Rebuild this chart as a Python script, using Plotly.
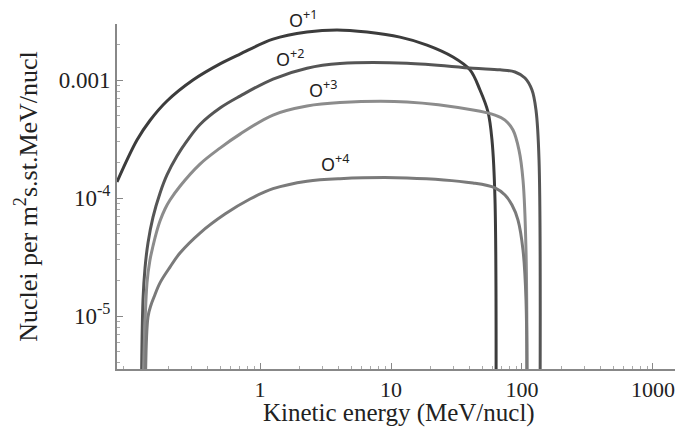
import plotly.graph_objects as go
import numpy as np

# Data (energy in MeV/nucl, flux in nuclei per m^2 s st MeV/nucl)
o1_energy = [0.0810, 0.1151, 0.1446, 0.1950, 0.3079, 0.4951, 0.7037, 1.257, 2.284, 3.871, 6.56, 11.71, 18.83, 29.74, 40.10, 47.80, 55.03, 59.02, 62.22, 63.33]
o1_flux = [1.37e-4, 3.10e-4, 4.54e-4, 6.64e-4, 1.0e-3, 1.37e-3, 1.66e-3, 2.22e-3, 2.55e-3, 2.66e-3, 2.55e-3, 2.31e-3, 1.98e-3, 1.57e-3, 1.22e-3, 8.23e-4, 5.36e-4, 3.10e-4, 9.61e-5, 1e-6]

o2_energy = [0.1235, 0.1279, 0.1325, 0.1396, 0.1525, 0.1724, 0.1950, 0.2325, 0.2772, 0.3483, 0.4951, 0.7037, 1.257, 2.284, 4.080, 13.25, 42.27, 67.95, 88.44, 105.4, 119.2, 127.9, 134.9, 137.2]
o2_flux = [1e-6, 1.37e-5, 2.55e-5, 4.16e-5, 6.90e-5, 1.10e-4, 1.57e-4, 2.27e-4, 3.05e-4, 4.20e-4, 5.79e-4, 7.31e-4, 1.02e-3, 1.26e-3, 1.38e-3, 1.39e-3, 1.26e-3, 1.22e-3, 1.17e-3, 1.04e-3, 8.23e-4, 5.57e-4, 2.10e-4, 1e-6]

o3_energy = [0.1257, 0.1372, 0.1446, 0.1525, 0.1607, 0.1724, 0.1883, 0.2056, 0.2450, 0.3483, 0.4951, 0.7037, 1.257, 2.284, 4.080, 13.25, 42.27, 62.22, 74.18, 85.38, 94.87, 101.8, 107.3, 109.2]
o3_flux = [1e-6, 1.91e-5, 2.99e-5, 3.92e-5, 4.95e-5, 6.38e-5, 8.07e-5, 9.61e-5, 1.26e-4, 1.94e-4, 2.65e-4, 3.48e-4, 5.05e-4, 6.02e-4, 6.44e-4, 6.51e-4, 5.57e-4, 5.05e-4, 4.58e-4, 3.77e-4, 2.55e-4, 1.42e-4, 3.62e-5, 1e-6]

o4_energy = [0.1325, 0.1396, 0.1472, 0.1552, 0.1724, 0.2056, 0.2450, 0.3483, 0.5405, 0.8389, 1.257, 2.284, 4.080, 13.25, 42.27, 62.22, 74.18, 83.90, 93.22, 101.8, 107.3, 109.2]
o4_flux = [1e-6, 9.81e-6, 1.24e-5, 1.45e-5, 1.91e-5, 2.60e-5, 3.42e-5, 5.05e-5, 7.31e-5, 9.81e-5, 1.20e-4, 1.39e-4, 1.46e-4, 1.48e-4, 1.34e-4, 1.22e-4, 1.06e-4, 8.72e-5, 6.51e-5, 3.62e-5, 1.37e-5, 1e-6]

series_names = ["O<sup>+1</sup>", "O<sup>+2</sup>", "O<sup>+3</sup>", "O<sup>+4</sup>"]
series_colors = ["#3c3c3c", "#555555", "#8c8c8c", "#7a7a7a"]

# label anchor positions (energy, paper-fraction height)
label_energy = [2.129, 1.694, 3.026, 3.737]
label_height = [1.058, 0.945, 0.855, 0.597]

x_major = [1, 10, 100, 1000]
x_major_text = ["1", "10", "100", "1000"]
y_major = [1e-3, 1e-4, 1e-5]
y_major_text = ["0.001", "10<sup>-4</sup>", "10<sup>-5</sup>"]

x_minor = [m * 10.0 ** d for d in range(-2, 4) for m in range(2, 10)]
y_minor = [m * 10.0 ** d for d in range(-7, -1) for m in range(2, 10)]

fig = go.Figure()
for e, f, c, n in zip([o1_energy, o2_energy, o3_energy, o4_energy],
                      [o1_flux, o2_flux, o3_flux, o4_flux],
                      series_colors, series_names):
    fig.add_trace(go.Scatter(x=e, y=f, mode="lines", name=n,
                             line=dict(color=c, width=3, shape="spline", smoothing=1.0)))

for n, xe, yh in zip(series_names, label_energy, label_height):
    fig.add_annotation(x=np.log10(xe), y=yh, xref="x", yref="paper",
                       text=n, showarrow=False,
                       font=dict(family="Noto Sans", size=18, color="#222222"))

# x-axis title
fig.add_annotation(x=0.505, y=-0.128, xref="paper", yref="paper",
                   text="Kinetic energy (MeV/nucl)", showarrow=False,
                   yanchor="middle",
                   font=dict(family="Liberation Serif", size=25, color="#222222"))

axis_font = dict(family="Liberation Serif", size=22, color="#222222")
fig.update_layout(
    width=677, height=431,
    margin=dict(l=117, r=2, t=24, b=62),
    paper_bgcolor="white", plot_bgcolor="white",
    showlegend=False,
    xaxis=dict(type="log", range=[-1.0916, 3.168], automargin=False,
               tickmode="array", tickvals=x_major, ticktext=x_major_text,
               ticks="inside", ticklen=6, tickcolor="#888888", tickwidth=1,
               minor=dict(tickmode="array", tickvals=x_minor, ticks="inside",
                          ticklen=3, tickcolor="#aaaaaa", showgrid=False),
               showgrid=False, zeroline=False,
               showline=True, linecolor="#888888", linewidth=2,
               tickfont=axis_font),
    yaxis=dict(type="log", range=[-5.449, -2.525], automargin=False,
               tickmode="array", tickvals=y_major, ticktext=y_major_text,
               ticks="inside", ticklen=6, tickcolor="#888888", tickwidth=1,
               minor=dict(tickmode="array", tickvals=y_minor, ticks="inside",
                          ticklen=3, tickcolor="#aaaaaa", showgrid=False),
               showgrid=False, zeroline=False,
               showline=True, linecolor="#888888", linewidth=2,
               tickfont=dict(family="Liberation Serif", size=23, color="#222222"),
               title=dict(text="Nuclei per m<sup>2</sup>s.st.MeV/nucl",
                          font=dict(family="Liberation Serif", size=26, color="#222222"),
                          standoff=14)),
)

fig.write_html("out.html", config={"displayModeBar": False},
               post_script="document.body.style.margin='0px';document.body.style.overflow='hidden';")
